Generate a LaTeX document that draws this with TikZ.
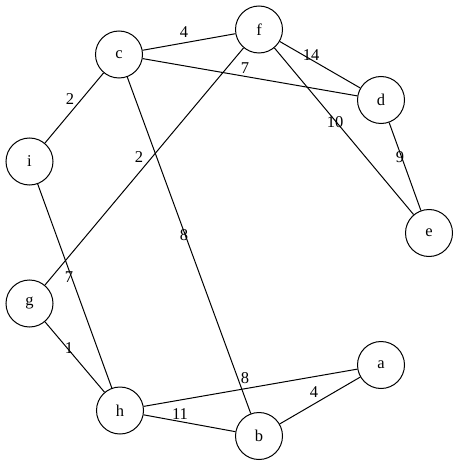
\documentclass[tikz,border=0pt]{standalone}
\usepackage{fontspec}
\setmainfont{Liberation Serif}
\begin{document}
\begin{tikzpicture}[x=1pt,y=-1pt,
  vertex/.style={circle,draw,line width=1pt,minimum size=47pt,inner sep=0pt,font=\fontsize{16.5}{16.5}\selectfont},
  edge/.style={line width=1pt},
  wlabel/.style={inner sep=0pt,font=\fontsize{16.5}{16.5}\selectfont}]
\useasboundingbox (0,0) rectangle (459,465);
\node[vertex] (c) at (119,54.5) {c};
\node[vertex] (f) at (259,29.5) {f};
\node[vertex] (d) at (381,100) {d};
\node[vertex] (i) at (29.5,161.5) {i};
\node[vertex] (e) at (429,233) {e};
\node[vertex] (g) at (29.5,303.5) {g};
\node[vertex] (h) at (120,410.5) {h};
\node[vertex] (b) at (259,436) {b};
\node[vertex] (a) at (381,365) {a};
\draw[edge] (c) -- (f);
\draw[edge] (c) -- (d);
\draw[edge] (f) -- (d);
\draw[edge] (f) -- (e);
\draw[edge] (d) -- (e);
\draw[edge] (c) -- (i);
\draw[edge] (f) -- (g);
\draw[edge] (c) -- (b);
\draw[edge] (i) -- (h);
\draw[edge] (g) -- (h);
\draw[edge] (h) -- (a);
\draw[edge] (h) -- (b);
\draw[edge] (b) -- (a);
\node[wlabel] (lcf) at (184,32) {4};
\node[wlabel] (lcd) at (245,68) {7};
\node[wlabel] (lfd) at (311,55) {14};
\node[wlabel] (lfe) at (335,122) {10};
\node[wlabel] (lde) at (400,157) {9};
\node[wlabel] (lci) at (70,99) {2};
\node[wlabel] (lfg) at (139,157) {2};
\node[wlabel] (lcb) at (184,235) {8};
\node[wlabel] (lih) at (69,277) {7};
\node[wlabel] (lgh) at (69,348) {1};
\node[wlabel] (lha) at (245,378) {8};
\node[wlabel] (lba) at (314,392) {4};
\node[wlabel] (lhb) at (180,414) {11};
\end{tikzpicture}
\end{document}
